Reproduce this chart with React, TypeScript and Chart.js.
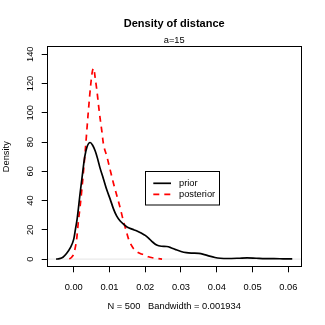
import React, { useEffect, useRef } from "react";
import { Chart, registerables } from "chart.js";

Chart.register(...registerables);

// ---- data ----
const priorX = [
  -0.0049, -0.004, -0.003, -0.002, -0.001, 0.0, 0.0005, 0.001, 0.0018, 0.0025,
  0.0031, 0.0037, 0.0046, 0.0053, 0.006, 0.0067, 0.0074, 0.0083, 0.0093, 0.0102,
  0.0111, 0.012, 0.013, 0.014, 0.0149, 0.0163, 0.0177, 0.019, 0.02, 0.021,
  0.022, 0.0232, 0.0245, 0.026, 0.0272, 0.0285, 0.03, 0.0315, 0.033, 0.035,
  0.0365, 0.038, 0.0395, 0.041, 0.043, 0.046, 0.0485, 0.051, 0.0535, 0.056,
  0.0585, 0.0611,
];
const priorY = [
  0, 0.3, 1.3, 3.8, 7.5, 13.5, 20.5, 28, 45, 59,
  70, 76.5, 79.7, 77.8, 74, 68.5, 62, 55, 47, 41,
  34.5, 29.5, 26, 23.7, 22, 20.5, 19.2, 17.6, 16.2, 14.2,
  11.8, 9.6, 8.8, 8.6, 7.8, 6.5, 5.2, 4.4, 4.1, 3.9,
  3.1, 2.0, 1.1, 0.6, 0.4, 0.6, 0.9, 0.6, 0.3, 0.3,
  0.2, 0.1,
];
const postX = [
  -0.0012, -0.0005, 0.0, 0.0004, 0.0009, 0.0013, 0.0018, 0.0023, 0.0032, 0.0041,
  0.0048, 0.0052, 0.0056, 0.006, 0.0065, 0.007, 0.0074, 0.0079, 0.0083, 0.0093,
  0.0102, 0.0111, 0.012, 0.013, 0.0139, 0.0146, 0.0153, 0.016, 0.0167, 0.0176,
  0.0186, 0.0198, 0.0209, 0.022, 0.0233, 0.0247,
];
const postY = [
  0, 1.5, 3.5, 7.3, 15, 25.5, 36, 48, 73, 101,
  120, 128, 130.5, 124, 115, 104, 96, 87, 79, 70,
  61, 52, 44, 35, 26, 20, 14, 10, 7.3, 5.2,
  3.9, 2.8, 1.6, 0.9, 0.4, 0,
];

const xTicks = [0, 0.01, 0.02, 0.03, 0.04, 0.05, 0.06];
const yTicks = [0, 20, 40, 60, 80, 100, 120, 140];
const seriesNames = ["prior", "posterior"];
const titleText = "Density of distance";
const subtitleText = "a=15";
const xLabel = "N = 500   Bandwidth = 0.001934";
const yLabel = "Density";

const FONT = "'Liberation Sans', Arial, Helvetica, sans-serif";
const BASE = 9.3;

const framePlugin = {
  id: "rframe",
  beforeDatasetsDraw(chart: any) {
    const { ctx, chartArea } = chart;
    const y0 = chart.scales.y.getPixelForValue(0);
    ctx.save();
    ctx.strokeStyle = "#d0d0d0";
    ctx.lineWidth = 0.6;
    ctx.beginPath();
    ctx.moveTo(chartArea.left, y0);
    ctx.lineTo(chartArea.right, y0);
    ctx.stroke();
    ctx.restore();
  },
  afterDatasetsDraw(chart: any) {
    const { ctx, chartArea } = chart;
    ctx.save();
    ctx.strokeStyle = "#000";
    ctx.lineWidth = 1;
    const l = Math.round(chartArea.left) + 0.5;
    const t = Math.round(chartArea.top) + 0.5;
    const r = Math.round(chartArea.right) - 0.5;
    const b = Math.round(chartArea.bottom) - 0.5;
    ctx.strokeRect(l, t, r - l, b - t);

    // legend box
    const bx = 145.5, by = 171.5, bw = 74, bh = 33.5;
    ctx.fillStyle = "#fff";
    ctx.fillRect(bx, by, bw, bh);
    ctx.strokeRect(bx, by, bw, bh);
    const rows = [183.3, 194.3];
    chart.data.datasets.forEach((ds: any, i: number) => {
      ctx.save();
      ctx.strokeStyle = ds.borderColor;
      ctx.lineWidth = ds.borderWidth;
      ctx.setLineDash(ds.borderDash || []);
      ctx.beginPath();
      ctx.moveTo(153.3, rows[i]);
      ctx.lineTo(171, rows[i]);
      ctx.stroke();
      ctx.restore();
      ctx.fillStyle = "#000";
      ctx.font = `${BASE}px ${FONT}`;
      ctx.textAlign = "left";
      ctx.textBaseline = "middle";
      ctx.fillText(ds.label, 179, rows[i]);
    });
    ctx.restore();
  },
};

export default function App() {
  const ref = useRef<HTMLCanvasElement>(null);
  useEffect(() => {
    if (!ref.current) return;
    Chart.defaults.font.family = FONT;
    Chart.defaults.color = "#000";
    const chart = new Chart(ref.current, {
      type: "line",
      data: {
        datasets: [
          {
            label: seriesNames[0],
            data: priorX.map((x, i) => ({ x, y: priorY[i] })),
            borderColor: "#000",
            borderWidth: 1.7,
            pointRadius: 0,
            cubicInterpolationMode: "monotone",
            fill: false,
          },
          {
            label: seriesNames[1],
            data: postX.map((x, i) => ({ x, y: postY[i] })),
            borderColor: "#ff0000",
            borderWidth: 1.7,
            borderDash: [6, 5],
            pointRadius: 0,
            cubicInterpolationMode: "monotone",
            fill: false,
          },
        ],
      },
      options: {
        animation: false,
        responsive: false,
        devicePixelRatio: 1,
        layout: { padding: { top: 0, left: 0, right: 23.3, bottom: 13.4 } },
        plugins: {
          legend: { display: false },
          tooltip: { enabled: false },
          title: {
            display: true,
            text: titleText,
            fullSize: false,
            color: "#000",
            font: { size: 11, weight: "bold", family: FONT },
            padding: { top: 17.5, bottom: 0 },
          },
          subtitle: {
            display: true,
            text: subtitleText,
            fullSize: false,
            color: "#000",
            font: { size: BASE, family: FONT },
            padding: { top: 4.2, bottom: 0 },
          },
        },
        scales: {
          x: {
            type: "linear",
            min: -0.00754,
            max: 0.06374,
            afterFit: (s: any) => {
              s.height = 44.3;
            },
            afterBuildTicks: (s: any) => {
              s.ticks = xTicks.map((v) => ({ value: v }));
            },
            border: { display: false },
            grid: {
              drawOnChartArea: false,
              drawTicks: true,
              tickLength: 5,
              color: "#000",
            },
            ticks: {
              font: { size: BASE },
              color: "#000",
              padding: 9.5,
              maxRotation: 0,
              minRotation: 0,
              autoSkip: false,
              callback: (v: any) => Number(v).toFixed(2),
            },
            title: {
              display: true,
              text: xLabel,
              color: "#000",
              font: { size: BASE },
              padding: { top: 0, bottom: 0 },
            },
          },
          y: {
            type: "linear",
            min: -5.6,
            max: 145.6,
            afterFit: (s: any) => {
              s.width = 46.7;
            },
            afterBuildTicks: (s: any) => {
              s.ticks = yTicks.map((v) => ({ value: v }));
            },
            border: { display: false },
            grid: {
              drawOnChartArea: false,
              drawTicks: true,
              tickLength: 5,
              color: "#000",
            },
            ticks: {
              font: { size: BASE },
              color: "#000",
              padding: 3.85,
              minRotation: 90,
              maxRotation: 90,
              crossAlign: "center",
              autoSkip: false,
              callback: (v: any) => String(v),
            },
            title: {
              display: true,
              text: yLabel,
              color: "#000",
              font: { size: BASE },
              padding: { top: 1.2, bottom: 0 },
            },
          },
        },
      },
      plugins: [framePlugin],
    } as any);
    return () => chart.destroy();
  }, []);
  return (
    <div style={{ position: "absolute", left: 0, top: 0, width: 325, height: 325, background: "#fff" }}>
      <canvas ref={ref} width={325} height={325} style={{ display: "block" }} />
    </div>
  );
}
